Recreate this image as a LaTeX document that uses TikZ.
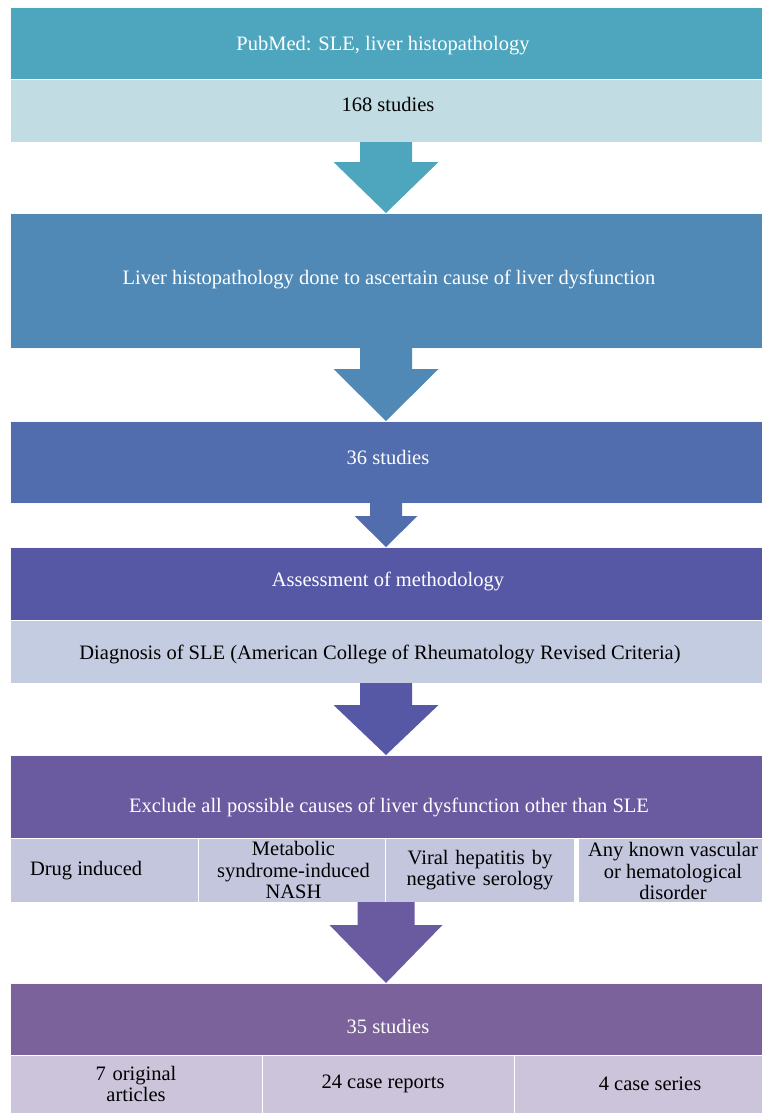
\documentclass[tikz,border=0pt]{standalone}
\usepackage{fontspec}
\setmainfont{Liberation Serif}
\usetikzlibrary{calc}
\definecolor{cA}{RGB}{77,166,190}
\definecolor{cAl}{RGB}{194,220,228}
\definecolor{cB}{RGB}{80,137,182}
\definecolor{cC}{RGB}{82,109,174}
\definecolor{cD}{RGB}{86,88,165}
\definecolor{cDl}{RGB}{195,204,224}
\definecolor{cE}{RGB}{106,90,160}
\definecolor{cEl}{RGB}{196,198,222}
\definecolor{cF}{RGB}{123,98,154}
\definecolor{cFl}{RGB}{203,196,218}
\newcommand{\barrow}[6]{%
  \fill[#3] ($(#1.south)+(-#4,0)$) -- ($(#2.north)+(-#4,-#6)$) -- ($(#2.north)+(-#5,-#6)$)
    -- (#2.north) -- ($(#2.north)+(#5,-#6)$) -- ($(#2.north)+(#4,-#6)$) -- ($(#1.south)+(#4,0)$) -- cycle;}
\begin{document}
\begin{tikzpicture}[x=1pt,y=-1pt,
  every node/.style={inner sep=0pt, outer sep=0pt, font=\fontsize{20.5}{21.5}\selectfont},
  dark/.style={rectangle, draw=white!75!black!10, line width=0.6pt, text=white, minimum width=752pt},
  light/.style={rectangle, draw=white, line width=0.8pt, text=black, minimum width=752pt},
  cell/.style={rectangle, draw=white, line width=0.8pt, text=black, align=center},
  wlab/.style={text=white},
  blab/.style={text=black, align=center}]
\useasboundingbox (0,0) rectangle (762,1113);
% block 1
\node[dark, fill=cA, minimum height=72pt] (b1) at (386,43) {};
\node[wlab] (b1t) at (383,46) {PubMed: SLE, liver histopathology};
\node[light, fill=cAl, minimum height=63pt] (b1l) at (386,110.5) {};
\node[blab] (b1lt) at (388,104) {168 studies};
% block 2
\node[dark, fill=cB, minimum height=135pt] (b2) at (386,280.5) {};
\node[wlab] (b2t) at (389,279) {Liver histopathology done to ascertain cause of liver dysfunction};
% block 3
\node[dark, fill=cC, minimum height=82pt] (b3) at (386,462) {};
\node[wlab] (b3t) at (388,457) {36 studies};
% block 4
\node[dark, fill=cD, minimum height=73pt] (b4) at (386,583.5) {};
\node[wlab] (b4t) at (388,581) {Assessment of methodology};
\node[light, fill=cDl, minimum height=63pt] (b4l) at (386,651.5) {};
\node[blab] (b4lt) at (380,654) {Diagnosis of SLE (American College of Rheumatology Revised Criteria)};
% block 5
\node[dark, fill=cE, minimum height=83pt] (b5) at (386,796.5) {};
\node[wlab] (b5t) at (389,807) {Exclude all possible causes of liver dysfunction other than SLE};
\node[minimum width=752pt, minimum height=64pt] (r5) at (386,870) {};
\node[cell, fill=cEl, minimum width=188pt, minimum height=64pt] (c51) at (104,870) {};
\node[anchor=west] (c51t) at (30,871) {Drug induced};
\node[cell, fill=cEl, minimum width=191pt, minimum height=64pt, text width=189pt] (c52) at (293.5,870) {Metabolic\\ syndrome-induced\\ NASH};
\node[cell, fill=cEl, minimum width=189pt, minimum height=64pt, text width=187pt] (c53) at (480,870) {Viral hepatitis by\\ negative serology};
\node[cell, fill=cEl, minimum width=184pt, minimum height=64pt] (c54) at (670,870) {};
\node[blab] (c54t) at (673,871) {Any known vascular\\ or hematological\\ disorder};
% block 6
\node[dark, fill=cF, minimum height=72pt] (b6) at (386,1019) {};
\node[wlab] (b6t) at (388,1026) {35 studies};
\node[cell, fill=cFl, minimum width=252pt, minimum height=58pt, text width=250pt] (c61) at (136,1084) {7 original\\ articles};
\node[cell, fill=cFl, minimum width=252pt, minimum height=58pt] (c62) at (388,1084) {};
\node[blab] (c62t) at (383,1084) {24 case reports};
\node[cell, fill=cFl, minimum width=248pt, minimum height=58pt] (c63) at (638,1084) {};
\node[blab] (c63t) at (650,1084) {4 case series};
% arrows
\begin{scope}[xshift=2pt]
\barrow{b1l}{b2}{cA}{26}{52.5}{51}
\barrow{b2}{b3}{cB}{26}{52.5}{52}
\barrow{b3}{b4}{cC}{16}{31.5}{31}
\barrow{b4l}{b5}{cD}{26}{52.5}{50}
\barrow{r5}{b6}{cE}{28.5}{56.5}{58}
\end{scope}
\end{tikzpicture}
\end{document}
